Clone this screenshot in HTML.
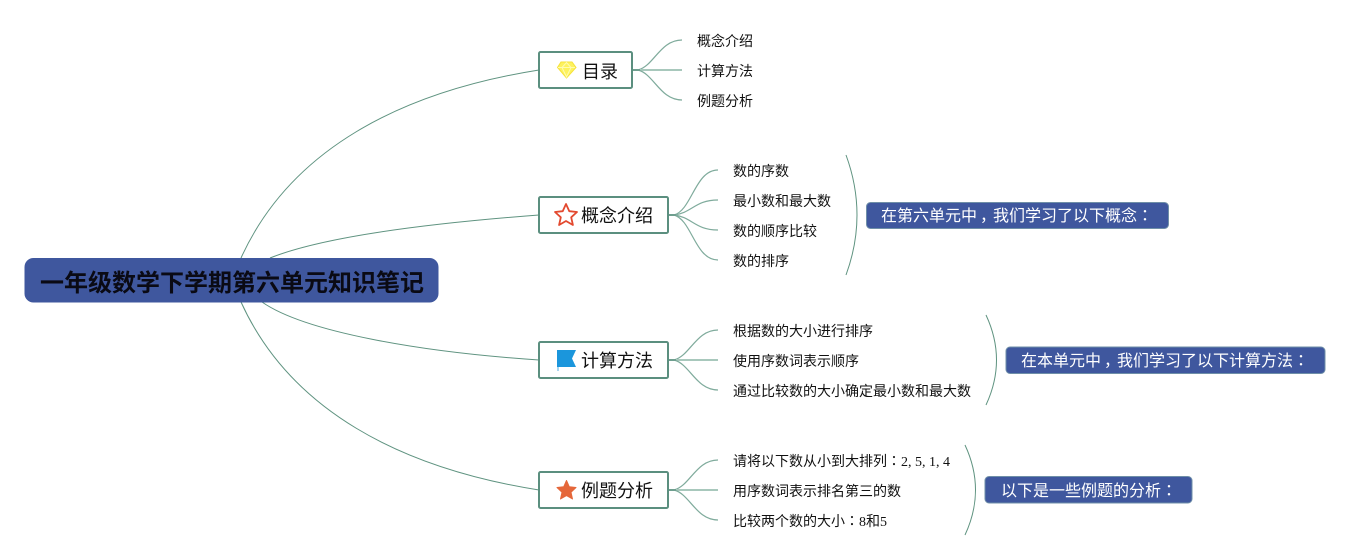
<!DOCTYPE html>
<html lang="zh-CN">
<head>
<meta charset="utf-8">
<style>
html,body{margin:0;padding:0;background:#fff;width:1370px;height:560px;overflow:hidden}
svg{display:block}
text{font-family:"Liberation Serif","Noto Sans CJK SC",serif}
.tc{font-family:"Noto Sans CJK TC",sans-serif}
.s{font-size:14px;fill:#111}
.m{font-size:18px;fill:#111}
.c{font-size:16px;fill:#fff}
.l{fill:none;stroke:#5f9380;stroke-width:1}
.l2{fill:none;stroke:#7fab9c;stroke-width:1.200}
.l3{fill:none;stroke:#a8c8bc;stroke-width:2}
.l4{fill:none;stroke:#6f9f8f;stroke-width:2}
.n{fill:#fff;stroke:#5b8f7f;stroke-width:2}
.b{fill:#3f579e;stroke:#6f8fa8;stroke-width:1}
</style>
</head>
<body>
<svg width="1370" height="560" viewBox="0 0 1370 560" xmlns="http://www.w3.org/2000/svg">
<!-- root connectors -->
<path class="l" d="M241 258C290 150 400 92 539 70"/>
<path class="l" d="M270 258C320 238 420 224 539 215"/>
<path class="l" d="M262 302C305 332 420 352 539 360"/>
<path class="l" d="M241 302C290 410 400 468 539 490"/>
<!-- sub connectors -->
<path class="l2" d="M638 70C654 66 660 40 682 40"/>
<path class="l3" d="M638 70H682"/>
<path class="l2" d="M638 70C654 74 660 100 682 100"/>
<path class="l4" d="M632 70H640"/>
<path class="l2" d="M674 215C692 210 695 170 718 170"/>
<path class="l2" d="M674 215C692 213 695 200 718 200"/>
<path class="l2" d="M674 215C692 217 695 230 718 230"/>
<path class="l2" d="M674 215C692 220 695 260 718 260"/>
<path class="l4" d="M668 215H676"/>
<path class="l2" d="M674 360C690 356 696 330 718 330"/>
<path class="l3" d="M674 360H718"/>
<path class="l2" d="M674 360C690 364 696 390 718 390"/>
<path class="l4" d="M668 360H676"/>
<path class="l2" d="M674 490C690 486 696 460 718 460"/>
<path class="l3" d="M674 490H718"/>
<path class="l2" d="M674 490C690 494 696 520 718 520"/>
<path class="l4" d="M668 490H676"/>
<!-- braces -->
<path class="l" d="M846 155Q868 215 846 275"/>
<path class="l" d="M986 315Q1007 360 986 405"/>
<path class="l" d="M965 445Q986 490 965 535"/>
<!-- root -->
<rect x="24.500" y="258" width="414" height="44.500" rx="9" fill="#3f579e"/>
<text x="40" y="291" font-size="24" font-weight="bold" fill="#0a0a14">一年级数学下学期第六单元知识笔记</text>
<!-- main nodes -->
<rect class="n" x="539" y="52" width="93" height="36" rx="1.500"/>
<rect class="n" x="539" y="197" width="129" height="36" rx="1.500"/>
<rect class="n" x="539" y="342" width="129" height="36" rx="1.500"/>
<rect class="n" x="539" y="472" width="129" height="36" rx="1.500"/>
<text class="m" x="582" y="78">目录</text>
<text class="m" x="581" y="222">概念介绍</text>
<text class="m" x="581" y="367">计算方法</text>
<text class="m" x="581" y="497">例题分析</text>
<!-- icons -->
<g>
<path d="M561 62H572L576 67.500L566.500 78L557.500 67.500Z" fill="#fdf25e" stroke="#f6e23a" stroke-width="1"/>
<path d="M558 67.500H575M562 67.500L566.500 77L571 67.500L566.500 62.500L562 67.500" fill="none" stroke="#fffbb0" stroke-width="1"/>
</g>
<path d="M566 204L569.300 211.200L577 212L571.200 217.300L572.900 225L566 221L559.100 225L560.800 217.300L555 212L562.700 211.200Z" fill="#fff" stroke="#e3492f" stroke-width="1.800" stroke-linejoin="round"/>
<path d="M557 350H576L572 358.500L576 367H557Z" fill="#1b96dc"/>
<rect x="557" y="367" width="2" height="4" fill="#a9d6f0"/>
<path d="M566.500 480.500L569.300 486.800L576 487.500L571 492.200L572.500 499L566.500 495.600L560.500 499L562 492.200L557 487.500L563.700 486.800Z" fill="#e5673a" stroke="#e5673a" stroke-width="1" stroke-linejoin="round"/>
<!-- leaf labels -->
<text class="s" x="697" y="46">概念介绍</text>
<text class="s" x="697" y="76">计算方法</text>
<text class="s" x="697" y="106">例题分析</text>
<text class="s" x="733" y="176">数的序数</text>
<text class="s" x="733" y="206">最小数和最大数</text>
<text class="s" x="733" y="236">数的顺序比较</text>
<text class="s" x="733" y="266">数的排序</text>
<text class="s" x="733" y="336">根据数的大小进行排序</text>
<text class="s" x="733" y="366">使用序数词表示顺序</text>
<text class="s" x="733" y="396">通过比较数的大小确定最小数和最大数</text>
<text class="s" x="733" y="466">请将以下数从小到大排列<tspan class="tc" lang="zh-TW">：</tspan>2, 5, 1, 4</text>
<text class="s" x="733" y="496">用序数词表示排名第三的数</text>
<text class="s" x="733" y="526">比较两个数的大小<tspan class="tc" lang="zh-TW">：</tspan>8和5</text>
<!-- callouts -->
<rect class="b" x="866.500" y="202.500" width="302" height="26" rx="4"/>
<text class="c" x="881" y="221">在第六单元中<tspan dx="3">，</tspan><tspan dx="-3">我们学习了以下概念</tspan><tspan class="tc" lang="zh-TW">：</tspan></text>
<rect class="b" x="1006" y="347" width="319" height="26.500" rx="4"/>
<text class="c" x="1021" y="366">在本单元中<tspan dx="3">，</tspan><tspan dx="-3">我们学习了以下计算方法</tspan><tspan class="tc" lang="zh-TW">：</tspan></text>
<rect class="b" x="985" y="476.500" width="207" height="26.500" rx="4"/>
<text class="c" x="1001" y="496">以下是一些例题的分析<tspan class="tc" lang="zh-TW">：</tspan></text>
</svg>
</body>
</html>
